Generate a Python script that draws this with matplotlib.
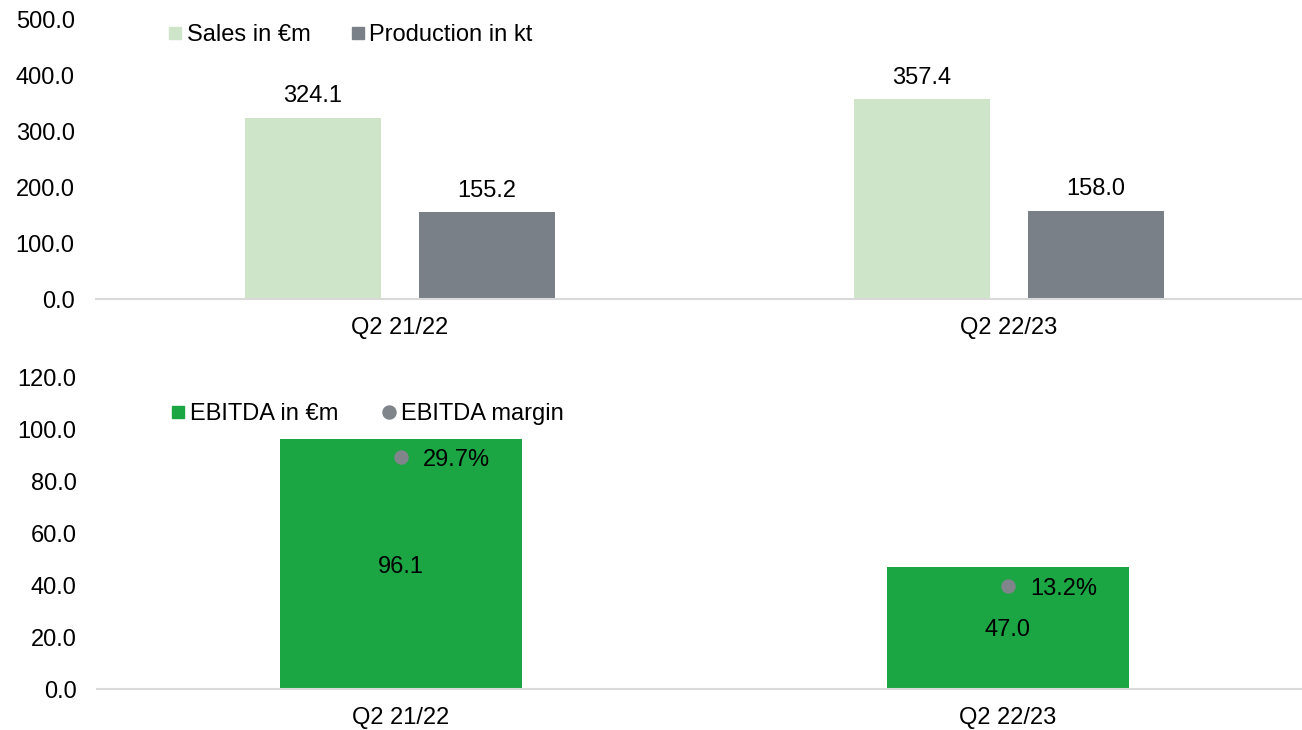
import matplotlib
matplotlib.use("Agg")
import matplotlib.pyplot as plt
from matplotlib.lines import Line2D
from matplotlib.ticker import FuncFormatter
import numpy as np

plt.rcParams['font.family'] = ['Liberation Sans', 'DejaVu Sans']

categories = ["Q2 21/22", "Q2 22/23"]
sales = [324.1, 357.4]
production = [155.2, 158.0]
ebitda = [96.1, 47.0]
ebitda_margin = [29.7, 13.2]
top_ticks = [0, 100, 200, 300, 400, 500]
bottom_ticks = [0, 20, 40, 60, 80, 100, 120]

C_SALES = "#CFE5C9"
C_PROD = "#7A8087"
C_EBITDA = "#1BA543"
C_MARGIN = "#80858C"
C_AXIS = "#D9D9D9"
FS = 17

fig = plt.figure(figsize=(13.02, 7.30), dpi=100)

def style_axis(ax, ticks):
    for s in ["top", "right", "left"]:
        ax.spines[s].set_visible(False)
    ax.spines["bottom"].set_color(C_AXIS)
    ax.spines["bottom"].set_linewidth(1.5)
    ax.set_yticks(ticks)
    ax.yaxis.set_major_formatter(FuncFormatter(lambda v, p: f"{v:.1f}"))
    ax.tick_params(axis="y", length=0, pad=15, labelsize=FS)
    ax.tick_params(axis="x", length=0, pad=13, labelsize=FS)
    ax.set_xticks(range(len(categories)))
    ax.set_xticklabels(categories)
    ax.set_xlim(-0.5, len(categories) - 0.5)

# ---- top chart ----
ax1 = fig.add_axes([0.07335, 0.59041, 0.93548, 0.38356])
x = np.arange(len(categories))
w = 0.2245
off = 0.1429
b1 = ax1.bar(x - off, sales, w, color=C_SALES, zorder=2)
b2 = ax1.bar(x + off, production, w, color=C_PROD, zorder=2)
ax1.set_ylim(0, 500)
style_axis(ax1, top_ticks)
for bars, vals in ((b1, sales), (b2, production)):
    for r, v in zip(bars, vals):
        ax1.annotate(f"{v:.1f}", (r.get_x() + r.get_width() / 2, r.get_height()),
                     xytext=(0, 17), textcoords="offset points",
                     ha="center", va="center_baseline", fontsize=FS)

h_sales = Line2D([], [], marker="s", linestyle="none", markersize=9,
                 markerfacecolor=C_SALES, markeredgecolor=C_SALES)
h_prod = Line2D([], [], marker="s", linestyle="none", markersize=9,
                markerfacecolor=C_PROD, markeredgecolor=C_PROD)
fig.legend([h_sales, h_prod], ["Sales in €m", "Production in kt"],
           loc="center left", bbox_to_anchor=(0.1293, 0.9520), ncol=2,
           frameon=False, fontsize=FS, borderpad=0, borderaxespad=0,
           handlelength=0.6, handletextpad=0.2, columnspacing=1.67)

# ---- bottom chart ----
ax2 = fig.add_axes([0.07488, 0.05616, 0.93241, 0.42740])
b3 = ax2.bar(x, ebitda, 0.4, color=C_EBITDA, zorder=2)
ax2.set_ylim(0, 120)
style_axis(ax2, bottom_ticks)
for r, v in zip(b3, ebitda):
    ax2.text(r.get_x() + r.get_width() / 2, v / 2, f"{v:.1f}",
             ha="center", va="center_baseline", fontsize=FS)

ax3 = ax2.twinx()
ax3.set_ylim(0, 40)
ax3.set_xlim(-0.5, len(categories) - 0.5)
for s in ax3.spines.values():
    s.set_visible(False)
ax3.set_yticks([])
ax3.plot(x, ebitda_margin, linestyle="none", marker="o", markersize=9.4,
         color=C_MARGIN, zorder=3)
for xi, v in zip(x, ebitda_margin):
    ax3.annotate(f"{v:.1f}%", (xi, v), xytext=(16, 0), textcoords="offset points",
                 ha="left", va="center_baseline", fontsize=FS)

h_eb = Line2D([], [], marker="s", linestyle="none", markersize=9,
              markerfacecolor=C_EBITDA, markeredgecolor=C_EBITDA)
h_mg = Line2D([], [], marker="o", linestyle="none", markersize=9.4,
              markerfacecolor=C_MARGIN, markeredgecolor=C_MARGIN)
fig.legend([h_eb, h_mg], ["EBITDA in €m", "EBITDA margin"],
           loc="center left", bbox_to_anchor=(0.1313, 0.4330), ncol=2,
           frameon=False, fontsize=FS, borderpad=0, borderaxespad=0,
           handlelength=0.6, handletextpad=0.2, columnspacing=1.85)

fig.savefig("out.png", dpi=100)
